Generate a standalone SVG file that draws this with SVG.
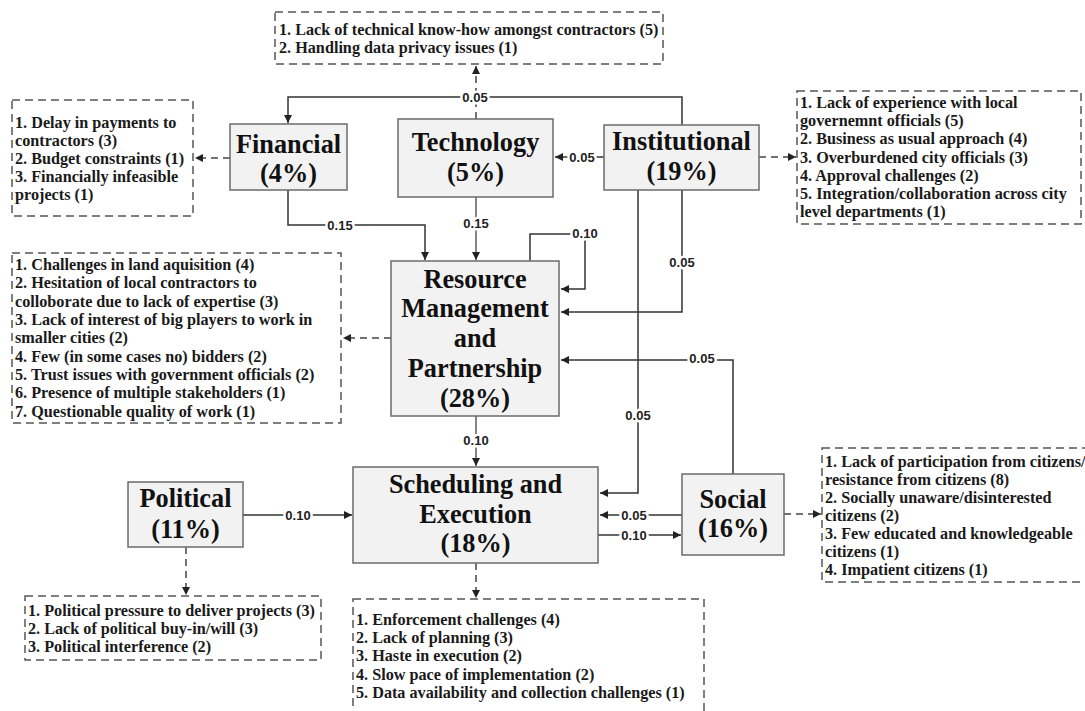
<svg xmlns="http://www.w3.org/2000/svg" width="1085" height="711" viewBox="0 0 1085 711">
  <style>
    .node { fill: #f2f2f2; stroke: #6b6b6b; stroke-width: 1.5; }
    .title { font-family: "Liberation Serif", "DejaVu Serif", serif; font-weight: bold; font-size: 26.3px; fill: #111; text-anchor: middle; }
    .list { fill: #ffffff; stroke: #555; stroke-width: 1.5; stroke-dasharray: 8 5; }
    .item { font-family: "Liberation Serif", "DejaVu Serif", serif; font-weight: bold; font-size: 16.2px; fill: #1a1a1a; }
    .edge { fill: none; stroke: #333; stroke-width: 1.5; }
    .dash { fill: none; stroke: #444; stroke-width: 1.5; stroke-dasharray: 7 5; }
    .w { font-family: "Liberation Sans", Arial, sans-serif; font-weight: bold; font-size: 13px; fill: #222; text-anchor: middle; dominant-baseline: central; paint-order: stroke; stroke: #fff; stroke-width: 5px; stroke-linejoin: round; }
  </style>
  <defs>
    <marker id="arr" viewBox="0 0 10 10" refX="10" refY="5" markerWidth="9" markerHeight="8" markerUnits="userSpaceOnUse" orient="auto">
      <path d="M0,0 L10,5 L0,10 z" fill="#222"/>
    </marker>
  </defs>

  <rect width="1085" height="711" fill="#fff"/>

  <!-- connectors -->
  <g id="connectors">
    <path class="dash" d="M476,119 V66" marker-end="url(#arr)"/>
    <path class="edge" d="M682,125 V97 H288 V123" marker-end="url(#arr)"/>
    <text class="w" x="475" y="97">0.05</text>

    <path class="dash" d="M230,158 H195" marker-end="url(#arr)"/>
    <path class="edge" d="M604,157 H555" marker-end="url(#arr)"/>
    <text class="w" x="582" y="157">0.05</text>
    <path class="dash" d="M759,157 H796" marker-end="url(#arr)"/>

    <path class="edge" d="M288,190 V225 H425 V260" marker-end="url(#arr)"/>
    <text class="w" x="340" y="225">0.15</text>
    <path class="edge" d="M476,197 V260" marker-end="url(#arr)" style="stroke-width:1.2"/>
    <text class="w" x="476" y="223">0.15</text>

    <path class="edge" d="M530,261 V234 H585 V289 H561" marker-end="url(#arr)"/>
    <text class="w" x="585" y="233">0.10</text>

    <path class="edge" d="M682,190 V312 H561" marker-end="url(#arr)"/>
    <text class="w" x="682" y="262">0.05</text>

    <path class="edge" d="M638,190 V493 H600" marker-end="url(#arr)"/>
    <text class="w" x="638" y="415">0.05</text>

    <path class="edge" d="M733,474 V360 H561" marker-end="url(#arr)"/>
    <text class="w" x="702" y="358">0.05</text>

    <path class="dash" d="M391,338 H343" marker-end="url(#arr)"/>

    <path class="edge" d="M476,416 V466" marker-end="url(#arr)" style="stroke-width:1.2"/>
    <text class="w" x="476" y="440">0.10</text>

    <path class="edge" d="M682,515 H600" marker-end="url(#arr)"/>
    <text class="w" x="634" y="515">0.05</text>
    <path class="edge" d="M598,535 H681" marker-end="url(#arr)"/>
    <text class="w" x="634" y="535">0.10</text>

    <path class="edge" d="M243,515 H352" marker-end="url(#arr)"/>
    <text class="w" x="298" y="515">0.10</text>

    <path class="dash" d="M186,547 V595" marker-end="url(#arr)"/>
    <path class="dash" d="M476,563 V598" marker-end="url(#arr)"/>
    <path class="dash" d="M784,514 H821" marker-end="url(#arr)"/>
  </g>

  <!-- factor nodes -->
  <g id="financial">
    <rect class="node" x="230" y="124" width="117" height="66"/>
    <text class="title" x="288.5" y="153">Financial</text>
    <text class="title" x="288.5" y="182">(4%)</text>
  </g>
  <g id="technology">
    <rect class="node" x="398" y="119" width="155" height="78"/>
    <text class="title" x="475.5" y="151">Technology</text>
    <text class="title" x="475.5" y="181">(5%)</text>
  </g>
  <g id="institutional">
    <rect class="node" x="604" y="125" width="155" height="65"/>
    <text class="title" x="681.5" y="150">Institutional</text>
    <text class="title" x="681.5" y="180">(19%)</text>
  </g>
  <g id="resource">
    <rect class="node" x="391" y="261" width="168" height="155"/>
    <text class="title" x="475" y="288">Resource</text>
    <text class="title" x="475" y="317">Management</text>
    <text class="title" x="475" y="347">and</text>
    <text class="title" x="475" y="377">Partnership</text>
    <text class="title" x="475" y="407">(28%)</text>
  </g>
  <g id="scheduling">
    <rect class="node" x="353" y="467" width="245" height="96"/>
    <text class="title" x="475.5" y="493">Scheduling and</text>
    <text class="title" x="475.5" y="523">Execution</text>
    <text class="title" x="475.5" y="552">(18%)</text>
  </g>
  <g id="social">
    <rect class="node" x="682" y="474" width="102" height="81"/>
    <text class="title" x="733" y="508">Social</text>
    <text class="title" x="733" y="537">(16%)</text>
  </g>
  <g id="political">
    <rect class="node" x="128" y="482" width="115" height="65"/>
    <text class="title" x="185.5" y="507">Political</text>
    <text class="title" x="185.5" y="538">(11%)</text>
  </g>

  <!-- issue lists -->
  <g id="technology-issues">
    <rect class="list" x="275" y="12" width="388" height="52"/>
    <text class="item" x="279" y="35">1. Lack of technical know-how amongst contractors (5)</text>
    <text class="item" x="279" y="53">2. Handling data privacy issues (1)</text>
  </g>
  <g id="financial-issues">
    <rect class="list" x="12" y="100" width="181" height="116"/>
    <text class="item" x="15" y="128">1. Delay in payments to</text>
    <text class="item" x="15" y="146">contractors (3)</text>
    <text class="item" x="15" y="164">2. Budget constraints (1)</text>
    <text class="item" x="15" y="182">3. Financially infeasible</text>
    <text class="item" x="15" y="200">projects (1)</text>
  </g>
  <g id="institutional-issues">
    <rect class="list" x="797" y="91" width="284" height="133"/>
    <text class="item" x="800" y="108">1. Lack of experience with local</text>
    <text class="item" x="800" y="126">governemnt officials (5)</text>
    <text class="item" x="800" y="144">2. Business as usual approach (4)</text>
    <text class="item" x="800" y="163">3. Overburdened city officials (3)</text>
    <text class="item" x="800" y="181">4. Approval challenges (2)</text>
    <text class="item" x="800" y="199">5. Integration/collaboration across city</text>
    <text class="item" x="800" y="217">level departments (1)</text>
  </g>
  <g id="resource-issues">
    <rect class="list" x="12" y="253" width="329" height="170"/>
    <text class="item" x="15" y="270">1. Challenges in land aquisition (4)</text>
    <text class="item" x="15" y="288">2. Hesitation of local contractors to</text>
    <text class="item" x="15" y="307">colloborate due to lack of expertise (3)</text>
    <text class="item" x="15" y="325">3. Lack of interest of big players to work in</text>
    <text class="item" x="15" y="343">smaller cities (2)</text>
    <text class="item" x="15" y="362">4. Few (in some cases no) bidders (2)</text>
    <text class="item" x="15" y="380">5. Trust issues with government officials (2)</text>
    <text class="item" x="15" y="398">6. Presence of multiple stakeholders (1)</text>
    <text class="item" x="15" y="417">7. Questionable quality of work (1)</text>
  </g>
  <g id="social-issues">
    <rect class="list" x="822" y="448" width="270" height="134"/>
    <text class="item" x="825" y="467">1. Lack of participation from citizens/</text>
    <text class="item" x="825" y="485">resistance from citizens (8)</text>
    <text class="item" x="825" y="503">2. Socially unaware/disinterested</text>
    <text class="item" x="825" y="521">citizens (2)</text>
    <text class="item" x="825" y="539">3. Few educated and knowledgeable</text>
    <text class="item" x="825" y="557">citizens (1)</text>
    <text class="item" x="825" y="575">4. Impatient citizens (1)</text>
  </g>
  <g id="political-issues">
    <rect class="list" x="25" y="596" width="296" height="64"/>
    <text class="item" x="28" y="616">1. Political pressure to deliver projects (3)</text>
    <text class="item" x="28" y="634">2. Lack of political buy-in/will (3)</text>
    <text class="item" x="28" y="652">3. Political interference (2)</text>
  </g>
  <g id="scheduling-issues">
    <rect class="list" x="353" y="599" width="351" height="125"/>
    <text class="item" x="356" y="625">1. Enforcement challenges (4)</text>
    <text class="item" x="356" y="643">2. Lack of planning (3)</text>
    <text class="item" x="356" y="661">3. Haste in execution (2)</text>
    <text class="item" x="356" y="680">4. Slow pace of implementation (2)</text>
    <text class="item" x="356" y="698">5. Data availability and collection challenges (1)</text>
  </g>
</svg>
